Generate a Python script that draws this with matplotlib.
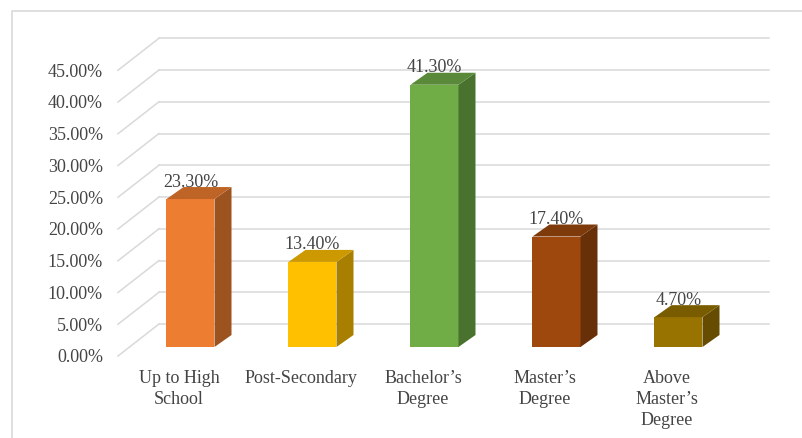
import matplotlib
matplotlib.use("Agg")
import matplotlib.pyplot as plt
from matplotlib.patches import Polygon
import numpy as np

# ---- data ----
categories = ["Up to High\nSchool", "Post-Secondary", "Bachelor\u2019s\nDegree",
              "Master\u2019s\nDegree", "Above\nMaster\u2019s\nDegree"]
values = [23.3, 13.4, 41.3, 17.4, 4.7]
value_labels = ["23.30%", "13.40%", "41.30%", "17.40%", "4.70%"]
y_ticks = [0, 5, 10, 15, 20, 25, 30, 35, 40, 45]
y_tick_labels = ["0.00%", "5.00%", "10.00%", "15.00%", "20.00%", "25.00%",
                 "30.00%", "35.00%", "40.00%", "45.00%"]
front_colors = ["#ED7D31", "#FFC000", "#70AD47", "#9E480E", "#997300"]

# ---- styling / layout ----
W, H = 802, 439
PX_X = 122.0      # pixels per category
PX_Y = 6.35       # pixels per percent
X0_PX = 190.5     # pixel x of category 0 center (bar front plane)
Y0_PX = 348.0     # pixel y of 0% (bar front plane)

def shade(c, f):
    c = c.lstrip("#")
    r, g, b = (int(c[i:i + 2], 16) for i in (0, 2, 4))
    return (r * f / 255, g * f / 255, b * f / 255)

fig = plt.figure(figsize=(W / 100, H / 100), dpi=100)
ax = fig.add_axes([0, 0, 1, 1])
ax.set_xlim((0 - X0_PX) / PX_X, (W - X0_PX) / PX_X)
ax.set_ylim((Y0_PX - H) / PX_Y, Y0_PX / PX_Y)
ax.axis("off")

# depth offsets (data units)
ff_dx, ff_dy = -11.5 / PX_X, -9.0 / PX_Y     # floor front relative to bar front plane
fb_dx, fb_dy = 29.5 / PX_X, 23.0 / PX_Y      # floor back relative to bar front plane
bd_dx, bd_dy = 17.0 / PX_X, 12.0 / PX_Y      # bar depth
hw = 24.0 / PX_X                              # half bar width

n = len(categories)
left, right = -0.5, n - 0.5
grid_c = "#d9d9d9"
for t in y_ticks:
    ax.plot([left + ff_dx, left + fb_dx], [t + ff_dy, t + fb_dy], color=grid_c, lw=1.1, zorder=1)
    ax.plot([left + fb_dx, right + fb_dx], [t + fb_dy, t + fb_dy], color=grid_c, lw=1.1, zorder=1)

serif = ["Liberation Serif", "DejaVu Serif"]
txt_c = "#444444"
for t, lab in zip(y_ticks, y_tick_labels):
    ax.text(left + ff_dx - 15.0 / PX_X, t + ff_dy - 1.0 / PX_Y, lab, ha="right", va="center",
            fontsize=13, family=serif, color=txt_c)

for i, (v, c) in enumerate(zip(values, front_colors)):
    x0, x1 = i - hw, i + hw
    front = Polygon([(x0, 0), (x1, 0), (x1, v), (x0, v)], closed=True,
                    facecolor=c, edgecolor="none", zorder=3)
    side = Polygon([(x1, 0), (x1 + bd_dx, bd_dy), (x1 + bd_dx, v + bd_dy), (x1, v)],
                   closed=True, facecolor=shade(c, 0.66), edgecolor="none", zorder=3)
    top = Polygon([(x0, v), (x1, v), (x1 + bd_dx, v + bd_dy), (x0 + bd_dx, v + bd_dy)],
                  closed=True, facecolor=shade(c, 0.8), edgecolor="none", zorder=3)
    for p in (front, side, top):
        ax.add_patch(p)
    ax.text(i, v + 18.0 / PX_Y, value_labels[i], ha="center", va="center",
            fontsize=13, family=serif, color=txt_c, zorder=4)

for i, cat in enumerate(categories):
    ax.text(i + ff_dx, (Y0_PX - 370) / PX_Y, cat, ha="center", va="top",
            fontsize=13, family=serif, color=txt_c, linespacing=1.3)

# outer frame (partially visible)
ax.plot([12 / W, 12 / W, 1.0], [0.0, 1 - 12 / H, 1 - 12 / H], transform=ax.transAxes,
        color="#d9d9d9", lw=1.2, clip_on=False)

fig.savefig("out.png", dpi=100)
